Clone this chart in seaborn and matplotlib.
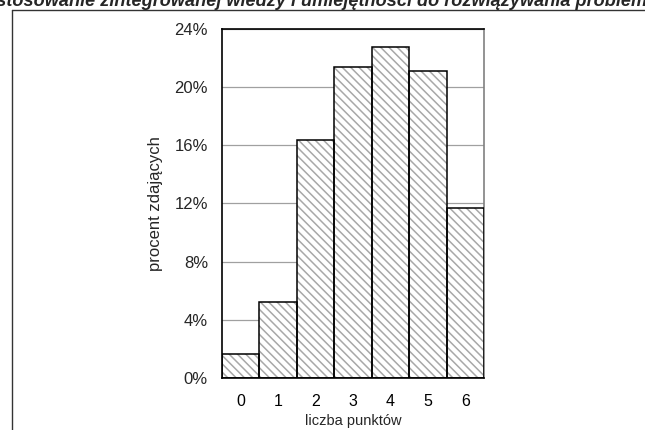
import matplotlib
matplotlib.use("Agg")
import matplotlib.pyplot as plt
from matplotlib.lines import Line2D
from matplotlib.ticker import FixedLocator
import seaborn as sns
import pandas as pd

# dane z wykresu
punkty = ["0", "1", "2", "3", "4", "5", "6"]
procent = [1.6, 5.2, 16.4, 21.4, 22.8, 21.1, 11.7]
yticks = [0, 4, 8, 12, 16, 20, 24]
tytul = "Zastosowanie zintegrowanej wiedzy i umiejętności do rozwiązywania problemów"

df = pd.DataFrame({"punkty": punkty, "procent": procent})

sns.set_style("white")
plt.rcParams["font.family"] = ["Liberation Sans", "DejaVu Sans"]
plt.rcParams["hatch.linewidth"] = 1.1

fig = plt.figure(figsize=(6.45, 4.3), dpi=100)
ax = fig.add_axes([0.344, 0.1216, 0.4066, 0.8103])

# wypelnienie z kreskowaniem (szare)
sns.barplot(data=df, x="punkty", y="procent", ax=ax, width=1.0,
            color="white", saturation=1, edgecolor="#a8a8a8", linewidth=0,
            hatch="\\\\\\\\", zorder=2)
# czarne obramowanie slupkow
sns.barplot(data=df, x="punkty", y="procent", ax=ax, width=1.0,
            fill=False, edgecolor="black", linewidth=1.1, zorder=3)

ax.set_ylim(0, 24)
ax.set_xlim(-0.5, 6.5)
ax.set_yticks(yticks)
ax.set_yticklabels([f"{v}%" for v in yticks])
ax.yaxis.grid(True, color="#a0a0a0", linewidth=0.9, zorder=0)
ax.set_axisbelow(True)

ax.xaxis.set_minor_locator(FixedLocator([i - 0.5 for i in range(len(punkty) + 1)]))
ax.tick_params(axis="x", which="major", length=0, labelsize=11.5, pad=12, colors="black")
ax.tick_params(axis="x", which="minor", length=5, width=1, color="black", direction="out")
ax.tick_params(axis="y", length=5, width=1, color="black", direction="out", labelsize=12, pad=5)

for s in ["left", "bottom", "top"]:
    ax.spines[s].set_color("black")
    ax.spines[s].set_linewidth(1.2)
ax.spines["right"].set_color("#808080")
ax.spines["right"].set_linewidth(1.2)

ax.set_xlabel("liczba punktów", fontsize=10.5, labelpad=3)
ax.set_ylabel("procent zdających", fontsize=12, labelpad=8)

# ramka wokol wykresu
fig.add_artist(Line2D([12 / 645, 1], [1 - 10 / 430, 1 - 10 / 430],
                      color="#333333", linewidth=1.0, transform=fig.transFigure))
fig.add_artist(Line2D([12 / 645, 12 / 645], [0, 1 - 10 / 430],
                      color="#333333", linewidth=1.0, transform=fig.transFigure))

fig.text(324 / 645, 1 - 6.5 / 430, tytul, ha="center", va="baseline",
         fontsize=13.1, fontweight="bold", fontstyle="italic")

fig.savefig("out.png", dpi=100)
